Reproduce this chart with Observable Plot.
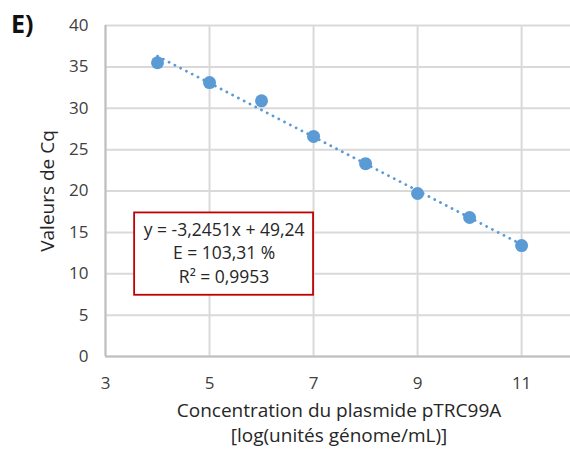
<!DOCTYPE html>
<html>
<head>
<meta charset="utf-8">
<script src="https://cdn.jsdelivr.net/npm/d3@7"></script>
<script src="https://cdn.jsdelivr.net/npm/@observablehq/plot@0.6"></script>
<style>
  html, body { margin: 0; padding: 0; background: #fff; }
  #wrap { position: relative; width: 570px; height: 457px; }
  #panel { position: absolute; left: 11px; top: 6px; font: bold 25px "Open Sans", sans-serif; color: #111; }
</style>
</head>
<body>
<div id="wrap"><div id="panel">E)</div></div>
<script>
const logConc = [4, 5, 6, 7, 8, 9, 10, 11];
const cq = [35.5, 33.1, 30.9, 26.6, 23.3, 19.7, 16.8, 13.4];
const xTicks = [3, 5, 7, 9, 11];
const yTicks = [0, 5, 10, 15, 20, 25, 30, 35, 40];
const eqLines = ["y = -3,2451x + 49,24", "E = 103,31 %", "R² = 0,9953"];
const boxX = [3.56, 7.0];
const boxY = [7.4, 17.35];
const textX = 5.28;
const textY = [15.2, 12.4, 9.55];

const data = logConc.map((x, i) => ({x, y: cq[i]}));
const blue = "#5b9bd5";
const font = "Open Sans, sans-serif";

const chart = Plot.plot({
  width: 570,
  height: 457,
  marginLeft: 105,
  marginRight: 0,
  marginTop: 25,
  marginBottom: 101,
  style: {fontFamily: font, fontSize: "17px", color: "#404040", background: "white"},
  x: {domain: [3, 11.94], ticks: xTicks, tickSize: 0, tickPadding: 21, label: null},
  y: {domain: [0, 40], ticks: yTicks, tickSize: 0, tickPadding: 16, label: null},
  marks: [
    Plot.gridX(xTicks, {stroke: "#d9d9d9", strokeOpacity: 1, strokeWidth: 2}),
    Plot.gridY(yTicks, {stroke: "#d9d9d9", strokeOpacity: 1, strokeWidth: 2}),
    Plot.ruleX([3], {stroke: "#bfbfbf", strokeWidth: 2}),
    Plot.ruleY([0], {stroke: "#bfbfbf", strokeWidth: 2}),
    Plot.axisX({ticks: xTicks, tickSize: 0, tickPadding: 20, fontSize: 17, fill: "#404040", label: null}),
    Plot.axisY({ticks: yTicks, tickSize: 0, tickPadding: 17, fontSize: 17, fill: "#404040", label: null}),
    Plot.linearRegressionY(data, {x: "x", y: "y", ci: 0, stroke: blue, strokeWidth: 2.8, strokeDasharray: "0.1,6.4", strokeLinecap: "round"}),
    Plot.dot(data, {x: "x", y: "y", r: 6.5, fill: blue, stroke: "none"}),
    Plot.rect([{x1: boxX[0], x2: boxX[1], y1: boxY[0], y2: boxY[1]}], {x1: "x1", x2: "x2", y1: "y1", y2: "y2", fill: "white", stroke: "#c00000", strokeWidth: 1.8}),
    Plot.text(eqLines.map((t, i) => ({t, y: textY[i]})), {x: () => textX, y: "y", text: "t", fontSize: 17.5, fill: "#262626", textAnchor: "middle"}),
    Plot.text(["Concentration du plasmide pTRC99A"], {frameAnchor: "bottom", dx: 1, dy: 60, fontSize: 19, fill: "#262626"}),
    Plot.text(["[log(unités génome/mL)]"], {frameAnchor: "bottom", dx: 1, dy: 85, fontSize: 19, fill: "#262626"}),
    Plot.text(["Valeurs de Cq"], {frameAnchor: "left", dx: -58, dy: 0, rotate: -90, textAnchor: "middle", fontSize: 19, fill: "#262626"})
  ]
});
document.getElementById("wrap").appendChild(chart);
</script>
</body>
</html>
